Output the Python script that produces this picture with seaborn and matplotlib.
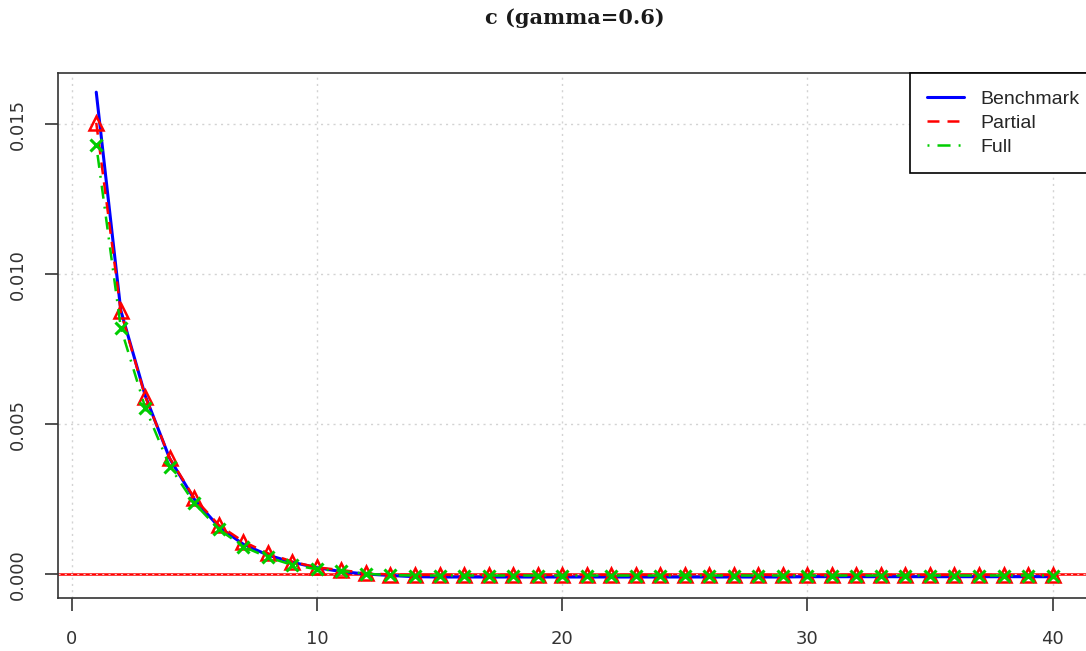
import numpy as np
import pandas as pd
import matplotlib
matplotlib.use("Agg")
import matplotlib.pyplot as plt
from matplotlib.lines import Line2D
import seaborn as sns

# ---- data ----
periods = list(range(1, 41))
benchmark = [0.01607, 0.00880, 0.00595, 0.00385, 0.00250, 0.00158, 0.00100, 0.00064,
             0.00040, 0.00022, 0.00009, 0.00001, -0.00004, -0.00008] + [-0.00009] * 15 + [-0.00008] * 11
partial = [0.01505, 0.00876, 0.00592, 0.00387, 0.00254, 0.00164, 0.00109, 0.00070,
           0.00042, 0.00023, 0.00014, 0.00004, -0.00001, -0.00002] + [-0.00002] * 26
full = [0.01431, 0.00822, 0.00555, 0.00359, 0.00237, 0.00150, 0.00092, 0.00057,
        0.00031, 0.00017, 0.00011, 0.00002, -0.00003, -0.00004] + [-0.00004] * 26
series_names = ["Benchmark", "Partial", "Full"]
x_ticks = [0, 10, 20, 30, 40]
y_ticks = [0.000, 0.005, 0.010, 0.015]
y_tick_labels = ["0.000", "0.005", "0.010", "0.015"]
title = "c (gamma=0.6)"

df = pd.DataFrame({"t": periods, "Benchmark": benchmark, "Partial": partial, "Full": full})

sns.set_style("white")
plt.rcParams["font.family"] = ["DejaVu Sans"]
plt.rcParams["lines.scale_dashes"] = False

W, H = 1086, 651
fig = plt.figure(figsize=(W / 100, H / 100), dpi=100)
ax = fig.add_axes([58 / W, (H - 598) / H, (1090.8 - 58) / W, (598 - 73) / H])

blue = "#0000FF"
red = "#FF0000"
green = "#00CD00"
dash_red = (0, (8.6, 5.8))
dash_green = (0, (1.4, 5.8, 9.4, 5.8))

# grid
for gx in x_ticks:
    ax.axvline(gx, color="#D3D3D3", lw=1.0, ls=(0, (1.5, 3)), zorder=0.5)
for gy in y_ticks:
    ax.axhline(gy, color="#D3D3D3", lw=1.0, ls=(0, (1.5, 3)), zorder=0.5)

# zero line
ax.axhline(0, color=red, lw=1.8, zorder=1.5)
ax.axhline(0, color="#F4C4C4", lw=0.8, ls=(0, (1.5, 3)), zorder=1.6)

sns.lineplot(data=df, x="t", y="Benchmark", ax=ax, color=blue, lw=2.2,
             legend=False, zorder=3)
sns.lineplot(data=df, x="t", y="Partial", ax=ax, color=red, lw=1.8, linestyle=dash_red,
             marker="^", markersize=10, markerfacecolor="none",
             markeredgecolor=red, markeredgewidth=1.8, legend=False, zorder=4)
sns.lineplot(data=df, x="t", y="Full", ax=ax, color=green, lw=1.8, linestyle=dash_green,
             marker="x", markersize=8, markeredgecolor=green, markeredgewidth=2.2,
             legend=False, zorder=5)

ax.set_xlim(-0.56, 41.56)
ax.set_ylim(-0.00079, 0.01671)
ax.set_xticks(x_ticks)
ax.set_xticklabels([str(v) for v in x_ticks])
ax.set_yticks(y_ticks)
ax.set_yticklabels(y_tick_labels, rotation=90, va="center")
ax.set_xlabel("")
ax.set_ylabel("")

for s in ax.spines.values():
    s.set_color("#333333")
    s.set_linewidth(1.2)
ax.tick_params(axis="both", direction="out", length=9.4, width=1.2, color="#333333",
               labelsize=13, labelcolor="#333333", bottom=True, left=True)
ax.tick_params(axis="x", pad=14)
ax.tick_params(axis="y", pad=13)

ax.set_title(title, fontsize=15, fontweight="bold", family="DejaVu Serif",
             color="#1a1a1a", pad=35)

handles = [Line2D([], [], color=blue, lw=2.2),
           Line2D([], [], color=red, lw=1.8, ls=dash_red),
           Line2D([], [], color=green, lw=1.8, ls=dash_green)]
leg = fig.legend(handles, series_names, loc="upper left",
                 bbox_to_anchor=(910 / W, 1 - 73 / H), bbox_transform=fig.transFigure,
                 borderaxespad=0, fancybox=False, shadow=False, framealpha=1,
                 edgecolor="black", prop={"family": "Liberation Sans", "size": 14},
                 handlelength=1.9, handletextpad=0.85, labelspacing=0.34,
                 borderpad=0.88)
leg.get_frame().set_linewidth(1.2)

fig.savefig("out.png", dpi=100)
